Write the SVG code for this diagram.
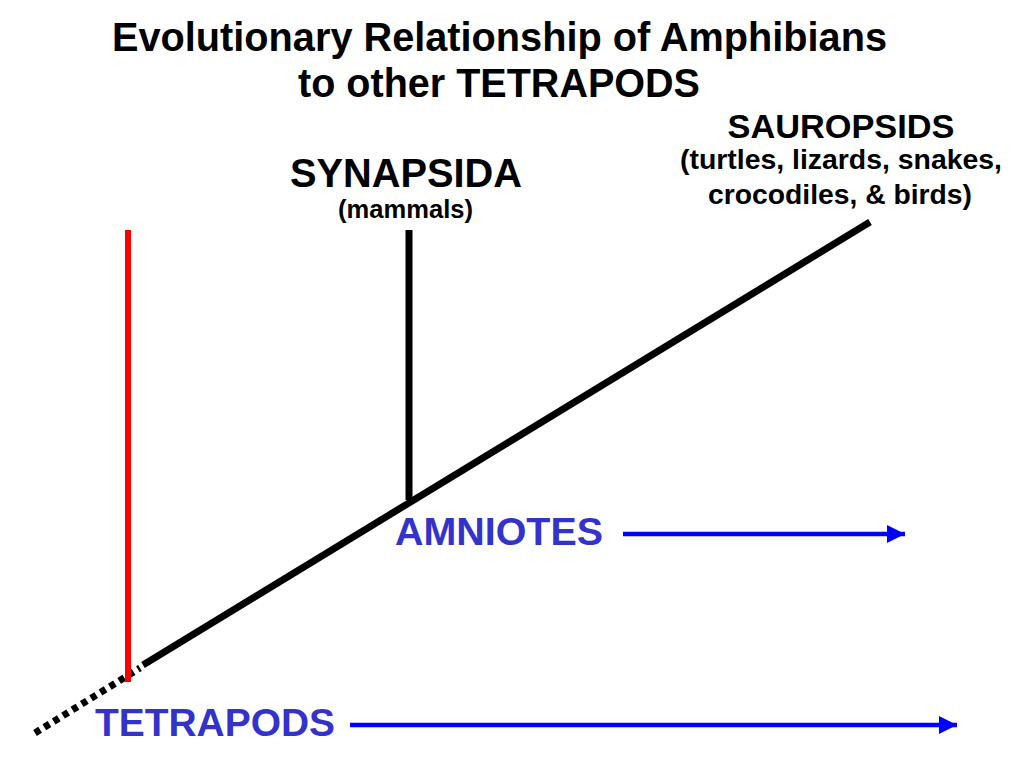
<svg xmlns="http://www.w3.org/2000/svg" width="1024" height="768" viewBox="0 0 1024 768">
<defs>
<style>
text{font-family:"Liberation Sans",Arial,sans-serif;font-weight:bold;text-anchor:middle}
.title{font-size:40px;fill:#000}
.blue{font-size:39px;fill:#3333cc}
.edge{stroke:#000;stroke-width:7;fill:none}
.arrow{stroke:#0000ff;stroke-width:4.5;fill:none}
</style>
<marker id="ah" markerWidth="18" markerHeight="18" viewBox="0 0 18 18" refX="18" refY="9" orient="auto" markerUnits="userSpaceOnUse">
<path d="M0,0 L18,9 L0,18 Z" fill="#0000ff"/>
</marker>
</defs>
<rect width="1024" height="768" fill="#fff"/>
<g id="title">
<text class="title" x="499.5" y="51" textLength="775" lengthAdjust="spacingAndGlyphs">Evolutionary Relationship of Amphibians</text>
<text class="title" x="499" y="97" textLength="402" lengthAdjust="spacingAndGlyphs">to other TETRAPODS</text>
</g>
<g id="connectors">
<line class="edge" x1="35" y1="733" x2="140" y2="668" stroke-dasharray="6,5"/>
<line class="edge" x1="143" y1="665" x2="870" y2="222"/>
<line x1="128" y1="230" x2="128" y2="682" stroke="#ff0000" stroke-width="6"/>
<line class="edge" x1="409" y1="230" x2="409" y2="500" stroke-width="6"/>
<line class="arrow" x1="623" y1="534" x2="905" y2="534" marker-end="url(#ah)"/>
<line class="arrow" x1="350" y1="725" x2="957" y2="725" marker-end="url(#ah)"/>
</g>
<g id="sauropsids">
<text x="841" y="138" font-size="34" textLength="227" lengthAdjust="spacingAndGlyphs">SAUROPSIDS</text>
<text x="841" y="169" font-size="28" textLength="322" lengthAdjust="spacingAndGlyphs">(turtles, lizards, snakes,</text>
<text x="840" y="204" font-size="28" textLength="264" lengthAdjust="spacingAndGlyphs">crocodiles, &amp; birds)</text>
</g>
<g id="synapsida">
<text x="406" y="187" font-size="40" textLength="232" lengthAdjust="spacingAndGlyphs">SYNAPSIDA</text>
<text x="405.5" y="218" font-size="25" textLength="135" lengthAdjust="spacingAndGlyphs">(mammals)</text>
</g>
<g id="amniotes">
<text class="blue" x="499" y="545" textLength="208" lengthAdjust="spacingAndGlyphs">AMNIOTES</text>
</g>
<g id="tetrapods">
<text class="blue" x="215" y="736" textLength="240" lengthAdjust="spacingAndGlyphs">TETRAPODS</text>
</g>
</svg>
